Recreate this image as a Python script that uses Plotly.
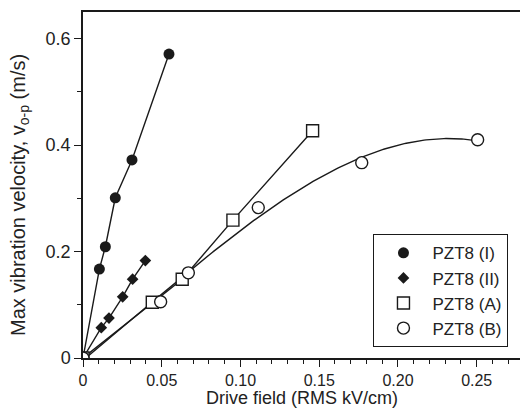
import numpy as np
import plotly.graph_objects as go

# Data
x_I = [0, 0.0104, 0.0142, 0.0205, 0.0311, 0.0546]
y_I = [0, 0.167, 0.209, 0.301, 0.372, 0.571]

x_II = [0, 0.0116, 0.0165, 0.0252, 0.0315, 0.0396]
y_II = [0, 0.057, 0.075, 0.115, 0.148, 0.183]

x_A = [0, 0.044, 0.063, 0.0952, 0.1458]
y_A = [0, 0.1046, 0.148, 0.259, 0.427]

x_B = [0, 0.0493, 0.0669, 0.1113, 0.177, 0.2506]
y_B = [0, 0.1058, 0.160, 0.2825, 0.367, 0.410]

names = ["PZT8 (I)", "PZT8 (II)", "PZT8 (A)", "PZT8 (B)"]
x_ticks = [0, 0.05, 0.10, 0.15, 0.20, 0.25]
x_ticktext = ["0", "0.05", "0.10", "0.15", "0.20", "0.25"]
y_ticks = [0, 0.2, 0.4, 0.6]
y_ticktext = ["0", "0.2", "0.4", "0.6"]
x_title = "Drive field (RMS kV/cm)"
y_title = "Max vibration velocity, v<sub>o-p</sub> (m/s)"

FONT = "Arial, Liberation Sans, sans-serif"
LC = "#1a1a1a"
TC = "#222222"

fig = go.Figure()

# connecting lines
for xs, ys in [(x_I, y_I), (x_II, y_II), (x_A, y_A)]:
    fig.add_trace(go.Scatter(x=xs, y=ys, mode="lines", line=dict(color=LC, width=1.4),
                             showlegend=False, hoverinfo="skip"))

# fitted curve for B (cubic through the data)
coef = np.polyfit(x_B, y_B, 3)
xf = np.linspace(0, max(x_B), 200)
fig.add_trace(go.Scatter(x=xf, y=np.polyval(coef, xf), mode="lines",
                         line=dict(color=LC, width=1.4), showlegend=False, hoverinfo="skip"))

fig.add_trace(go.Scatter(x=x_I, y=y_I, mode="markers", name=names[0],
                         marker=dict(symbol="circle", size=11, color=LC, line=dict(width=0))))
fig.add_trace(go.Scatter(x=x_II, y=y_II, mode="markers", name=names[1],
                         marker=dict(symbol="diamond", size=9, color=LC, line=dict(width=0))))
fig.add_trace(go.Scatter(x=x_A, y=y_A, mode="markers", name=names[2],
                         marker=dict(symbol="square", size=12, color="white", line=dict(width=1.4, color=LC))))
fig.add_trace(go.Scatter(x=x_B, y=y_B, mode="markers", name=names[3],
                         marker=dict(symbol="circle", size=12, color="white", line=dict(width=1.4, color=LC))))

fig.update_layout(
    width=520, height=409,
    margin=dict(l=83, r=0, t=12, b=51),
    paper_bgcolor="white", plot_bgcolor="white",
    font=dict(family=FONT, size=17, color=TC),
    legend=dict(x=0.664, y=0.032, xanchor="left", yanchor="bottom",
                bordercolor=LC, borderwidth=1.3, bgcolor="white",
                font=dict(size=17, family=FONT, color=TC),
                itemwidth=48, tracegroupgap=0),
    annotations=[
        dict(text=x_title, xref="paper", yref="paper", x=0.5, y=-0.115,
             xanchor="center", yanchor="middle", showarrow=False, borderpad=0,
             font=dict(size=18, family=FONT, color=TC)),
        dict(text=y_title, xref="paper", yref="paper", x=-0.1465, y=0.471,
             xanchor="center", yanchor="middle", showarrow=False, textangle=-90,
             font=dict(size=20, family=FONT, color=TC)),
    ],
)
fig.update_xaxes(
    range=[0, 0.2775], showgrid=False, zeroline=False,
    showline=True, linecolor=LC, linewidth=1.5, mirror=True,
    ticks="outside", ticklen=7, tickwidth=1.3, tickcolor=LC,
    tickvals=x_ticks, ticktext=x_ticktext, ticklabelstandoff=0,
    minor=dict(dtick=0.01, tick0=0, ticks="outside", ticklen=4, tickwidth=1.2, tickcolor=LC),
    tickfont=dict(size=16),
)
fig.update_yaxes(
    range=[0, 0.65], showgrid=False, zeroline=False,
    showline=True, linecolor=LC, linewidth=1.5,
    ticks="outside", ticklen=7, tickwidth=1.3, tickcolor=LC,
    tickvals=y_ticks, ticktext=y_ticktext,
    minor=dict(dtick=0.1, tick0=0, ticks="outside", ticklen=4, tickwidth=1.2, tickcolor=LC),
    tickfont=dict(size=18),
)

fig.write_html("out.html")
